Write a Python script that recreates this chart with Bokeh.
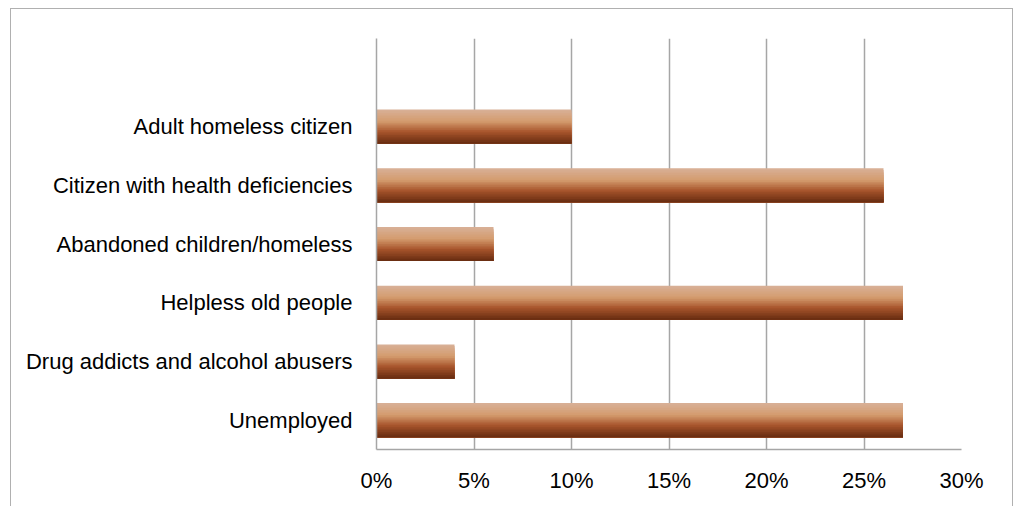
from bokeh.plotting import figure
from bokeh.models import FactorRange, Range1d, FixedTicker, NumeralTickFormatter, ColumnDataSource
from bokeh.transform import dodge
from bokeh.embed import file_html
from bokeh.resources import INLINE

# data (bottom to top as drawn)
categories = ["Unemployed", "Drug addicts and alcohol abusers", "Helpless old people",
              "Abandoned children/homeless", "Citizen with health deficiencies", "Adult homeless citizen"]
values = [0.27, 0.04, 0.27, 0.06, 0.26, 0.10]
x_ticks = [0, 0.05, 0.10, 0.15, 0.20, 0.25, 0.30]

FONT = "Liberation Sans"
GRID = "#a6a6a6"

factors = categories + [" "]
src = ColumnDataSource(dict(cat=categories, val=values))

p = figure(width=1014, height=506, y_range=FactorRange(factors=factors), x_range=Range1d(0, 0.30),
           output_backend="svg", toolbar_location=None,
           min_border_left=376, min_border_right=53, min_border_top=38, min_border_bottom=57)
p.outline_line_color = None
p.background_fill_color = "white"
p.border_fill_color = "white"
p.stylesheets = [""":host { position: relative; overflow: hidden; }
:host::after { content: ''; position: absolute; left: 10px; top: 8px; width: 1003px; height: 530px;
  border: 1.5px solid #b0b0b0; pointer-events: none; box-sizing: border-box; }"""]

# vertical gradient built from overlapping strips (top -> bottom)
stops = [(0.0, (0xd8, 0xb0, 0x98)), (0.35, (0xd4, 0x9c, 0x6e)), (0.65, (0xa8, 0x55, 0x2c)), (1.0, (0x66, 0x2b, 0x10))]
def col(t):
    for (t0, c0), (t1, c1) in zip(stops[:-1], stops[1:]):
        if t <= t1:
            f = (t - t0) / (t1 - t0)
            return "#%02x%02x%02x" % tuple(int(round(a + (b - a) * f)) for a, b in zip(c0, c1))
    return "#%02x%02x%02x" % stops[-1][1]

BAR_H = 0.58
N = 20
sh = BAR_H / N
for k in range(N):
    top = BAR_H / 2 - sh * k
    bot = -BAR_H / 2
    p.hbar(y=dodge("cat", (top + bot) / 2, range=p.y_range), left=0, right="val", height=top - bot,
           source=src, fill_color=col((k + 0.5) / N), line_color=None)

p.xaxis.ticker = FixedTicker(ticks=x_ticks)
p.xaxis.formatter = NumeralTickFormatter(format="0%")
p.ygrid.grid_line_color = None
p.xgrid.grid_line_color = GRID
p.xgrid.grid_line_width = 1.5
p.xgrid.ticker = FixedTicker(ticks=x_ticks)
for ax in (p.xaxis, p.yaxis):
    ax.axis_line_color = GRID
    ax.axis_line_width = 1.5
    ax.major_tick_line_color = None
    ax.minor_tick_line_color = None
    ax.major_label_text_font = FONT
    ax.major_label_text_font_size = "22px"
    ax.major_label_text_color = "black"
p.yaxis.major_label_standoff = 18
p.xaxis.major_label_standoff = 12

open("out.html", "w").write(file_html(p, INLINE))
